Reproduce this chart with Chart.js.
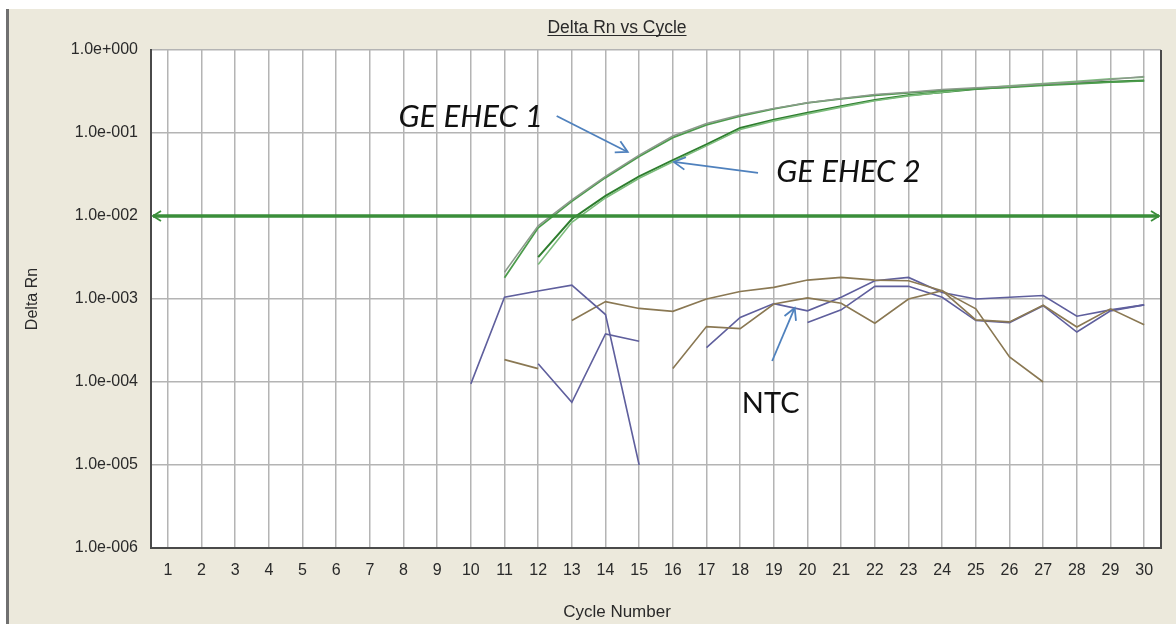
<!DOCTYPE html>
<html>
<head>
<meta charset="utf-8">
<script src="https://cdn.jsdelivr.net/npm/chart.js@4.4.1/dist/chart.umd.min.js"></script>
<style>
html,body{margin:0;padding:0;background:#fff;}
#wrap{width:1176px;height:624px;position:relative;}
</style>
</head>
<body>
<div id="wrap"><canvas id="c" width="1176" height="624"></canvas></div>
<script>
// ---------- DATA ----------
const cycles = [1,2,3,4,5,6,7,8,9,10,11,12,13,14,15,16,17,18,19,20,21,22,23,24,25,26,27,28,29,30];
const yTickValues = [1e-6, 1e-5, 1e-4, 1e-3, 1e-2, 1e-1, 1];
const yTickLabels = ['1.0e-006','1.0e-005','1.0e-004','1.0e-003','1.0e-002','1.0e-001','1.0e+000'];
const threshold = 1e-2;
const _ = null;

// GE EHEC 1 replicates (start cycle 11)
const ehec1a = [_,_,_,_,_,_,_,_,_,_, 2.1e-3,7.6e-3,1.56e-2,3.0e-2,5.4e-2,9.2e-2,0.13,0.165,0.198,0.232,0.26,0.29,0.31,0.335,0.35,0.365,0.39,0.41,0.44,0.48];
const ehec1b = [_,_,_,_,_,_,_,_,_,_, 1.8e-3,7.2e-3,1.5e-2,2.9e-2,5.2e-2,8.8e-2,0.125,0.16,0.195,0.23,0.258,0.285,0.305,0.325,0.34,0.355,0.375,0.39,0.41,0.425];
// GE EHEC 2 replicates (start cycle 12)
const ehec2a = [_,_,_,_,_,_,_,_,_,_,_, 3.2e-3,9.2e-3,1.75e-2,3.0e-2,4.7e-2,7.3e-2,0.115,0.145,0.175,0.21,0.25,0.285,0.31,0.34,0.36,0.385,0.40,0.415,0.43];
const ehec2b = [_,_,_,_,_,_,_,_,_,_,_, 2.6e-3,8.4e-3,1.65e-2,2.85e-2,4.5e-2,7.0e-2,0.11,0.14,0.17,0.205,0.245,0.28,0.31,0.345,0.37,0.395,0.42,0.45,0.47];

// NTC traces
const ntcA = [_,_,_,_,_,_,_,_,_, 9.5e-5,1.05e-3,1.25e-3,1.47e-3,6.5e-4,1.0e-5,_,_,_,_,_,_,_,_,_,_,_,_,_,_,_];
const ntcB = [_,_,_,_,_,_,_,_,_,_,_, 1.66e-4,5.7e-5,3.8e-4,3.1e-4,_,_,_,_,_,_,_,_,_,_,_,_,_,_,_];
const ntcC = [_,_,_,_,_,_,_,_,_,_, 1.86e-4,1.45e-4,_,_,_,_,_,_,_,_,_,_,_,_,_,_,_,_,_,_];
const ntcD = [_,_,_,_,_,_,_,_,_,_,_,_, 5.5e-4,9.3e-4,7.7e-4,7.1e-4,1.0e-3,1.23e-3,1.38e-3,1.69e-3,1.82e-3,1.69e-3,1.66e-3,1.26e-3,7.6e-4,2.0e-4,1.0e-4,_,_,_];
const ntcE = [_,_,_,_,_,_,_,_,_,_,_,_,_,_,_, 1.45e-4,4.65e-4,4.4e-4,8.7e-4,1.03e-3,8.9e-4,5.1e-4,1.0e-3,1.26e-3,5.6e-4,5.3e-4,8.4e-4,4.6e-4,7.6e-4,4.9e-4];
const ntcF = [_,_,_,_,_,_,_,_,_,_,_,_,_,_,_,_, 2.6e-4,6.0e-4,8.8e-4,7.2e-4,1.05e-3,1.66e-3,1.82e-3,1.2e-3,1.0e-3,1.05e-3,1.1e-3,6.2e-4,7.4e-4,8.5e-4];
const ntcG = [_,_,_,_,_,_,_,_,_,_,_,_,_,_,_,_,_,_,_, 5.2e-4,7.4e-4,1.42e-3,1.42e-3,1.05e-3,5.5e-4,5.2e-4,8.3e-4,4.0e-4,7.2e-4,8.5e-4];

// ---------- ANNOTATIONS (data coordinates: cycle, Delta Rn) ----------
const annotations = {
  texts: [
    {text:'GE EHEC 1', cycle:7.85, value:0.118, italic:true},
    {text:'GE EHEC 2', cycle:19.07, value:0.0257, italic:true},
    {text:'NTC', cycle:18.05, value:4.2e-5, italic:false}
  ],
  arrows: [
    {from:[12.55,0.16], to:[14.66,0.059]},
    {from:[18.53,0.033], to:[16.03,0.0448]},
    {from:[18.95,1.79e-4], to:[19.62,7.8e-4]}
  ]
};

// ---------- STYLE ----------
const BLUE = '#5f5f9d', BROWN = '#8a7853';
const FONT = '"Liberation Sans", Arial, sans-serif';

function ds(label, data, color, width){
  return {label, data, borderColor: color, borderWidth: width || 1.6, pointRadius: 0,
          fill: false, tension: 0, spanGaps: false};
}

const bgPlugin = {
  id: 'bg',
  beforeDraw(chart){
    const {ctx, chartArea:a} = chart;
    ctx.save();
    ctx.fillStyle = '#ffffff';
    ctx.fillRect(0,0,chart.width,chart.height);
    ctx.fillStyle = '#ece9dc';
    ctx.fillRect(9,9,chart.width-9,chart.height-9);
    ctx.fillStyle = '#707070';
    ctx.fillRect(6,9,3,chart.height-9);
    ctx.fillStyle = '#ffffff';
    ctx.fillRect(a.left,a.top,a.right-a.left,a.bottom-a.top);
    ctx.restore();
  },
  afterDraw(chart){
    const {ctx, chartArea:a} = chart;
    ctx.save();
    // right border
    ctx.strokeStyle = '#4a4a4a'; ctx.lineWidth = 2;
    ctx.beginPath(); ctx.moveTo(a.right, a.top); ctx.lineTo(a.right, a.bottom+1); ctx.stroke();
    // title
    const cx = 617;
    ctx.fillStyle = '#2a2a2a';
    ctx.font = '17.5px ' + FONT;
    ctx.textAlign = 'center'; ctx.textBaseline = 'alphabetic';
    const t = 'Delta Rn vs Cycle';
    ctx.fillText(t, cx, 33);
    const w = ctx.measureText(t).width;
    ctx.strokeStyle = '#2a2a2a'; ctx.lineWidth = 1;
    ctx.beginPath(); ctx.moveTo(cx - w/2, 35.5); ctx.lineTo(cx + w/2, 35.5); ctx.stroke();
    // x axis title
    ctx.font = '17px ' + FONT;
    ctx.textBaseline = 'middle';
    ctx.fillText('Cycle Number', cx, 612);
    ctx.restore();
  }
};

function drawArrow(ctx, x1, y1, x2, y2){
  const ang = Math.atan2(y2-y1, x2-x1), L = 13, sp = 0.5;
  ctx.beginPath(); ctx.moveTo(x1,y1); ctx.lineTo(x2,y2); ctx.stroke();
  ctx.beginPath();
  ctx.moveTo(x2 - L*Math.cos(ang - sp), y2 - L*Math.sin(ang - sp));
  ctx.lineTo(x2, y2);
  ctx.lineTo(x2 - L*Math.cos(ang + sp), y2 - L*Math.sin(ang + sp));
  ctx.stroke();
}

const overlayPlugin = {
  id: 'overlay',
  afterDatasetsDraw(chart){
    const {ctx, chartArea:a, scales:{x, y}} = chart;
    ctx.save();
    // threshold line with arrowheads
    const py = y.getPixelForValue(threshold);
    ctx.strokeStyle = '#3a8e3a'; ctx.lineWidth = 3.5; ctx.lineCap = 'butt';
    ctx.beginPath(); ctx.moveTo(a.left+2, py); ctx.lineTo(a.right-2, py); ctx.stroke();
    ctx.lineWidth = 1.8;
    ctx.beginPath(); ctx.moveTo(a.left+10, py-5); ctx.lineTo(a.left+2, py); ctx.lineTo(a.left+10, py+5); ctx.stroke();
    ctx.beginPath(); ctx.moveTo(a.right-10, py-5); ctx.lineTo(a.right-2, py); ctx.lineTo(a.right-10, py+5); ctx.stroke();
    // arrows
    ctx.strokeStyle = '#4f81bd'; ctx.lineWidth = 1.8; ctx.lineJoin = 'miter';
    annotations.arrows.forEach(ar => {
      drawArrow(ctx,
        x.getPixelForValue(ar.from[0]-1), y.getPixelForValue(ar.from[1]),
        x.getPixelForValue(ar.to[0]-1), y.getPixelForValue(ar.to[1]));
    });
    // texts
    ctx.fillStyle = '#111';
    ctx.textAlign = 'left'; ctx.textBaseline = 'alphabetic';
    annotations.texts.forEach(t => {
      ctx.font = t.italic ? 'italic 31px Lato, "Open Sans", sans-serif' : '29px Lato, "Open Sans", sans-serif';
      ctx.fillText(t.text, x.getPixelForValue(t.cycle-1), y.getPixelForValue(t.value));
    });
    ctx.restore();
  }
};

new Chart(document.getElementById('c'), {
  type: 'line',
  data: {
    labels: cycles.map(String),
    datasets: [
      ds('NTC A', ntcA, BLUE), ds('NTC B', ntcB, BLUE), ds('NTC C', ntcC, BROWN),
      ds('NTC D', ntcD, BROWN), ds('NTC E', ntcE, BROWN),
      ds('NTC F', ntcF, BLUE), ds('NTC G', ntcG, BLUE),
      ds('GE EHEC 1a', ehec1a, '#8c9a8c', 1.5), ds('GE EHEC 1b', ehec1b, '#4c9c4c', 1.8),
      ds('GE EHEC 2b', ehec2b, '#7cbc7c', 1.6), ds('GE EHEC 2a', ehec2a, '#2e7d2e', 2.0)
    ]
  },
  options: {
    responsive: false,
    animation: false,
    devicePixelRatio: 1,
    layout: {padding: {top: 50, right: 15, left: 0, bottom: 0}},
    plugins: {legend: {display: false}, tooltip: {enabled: false}, title: {display: false}},
    scales: {
      x: {
        type: 'category',
        offset: true,
        grid: {offset: false, color: '#b4b4b4', lineWidth: 1.5, drawTicks: false},
        border: {display: true, color: '#4a4a4a', width: 2},
        ticks: {color: '#2a2a2a', font: {family: FONT, size: 16}, padding: 13, maxRotation: 0, autoSkip: false},
        afterFit(s){ s.height = 76; }
      },
      y: {
        type: 'logarithmic',
        min: 1e-6, max: 1,
        grid: {color: '#b4b4b4', lineWidth: 1.5, drawTicks: false},
        border: {display: true, color: '#4a4a4a', width: 2},
        afterBuildTicks(s){ s.ticks = yTickValues.map(v => ({value: v})); },
        ticks: {
          color: '#2a2a2a', font: {family: FONT, size: 16}, padding: 13,
          callback: (v) => yTickLabels[yTickValues.indexOf(v)]
        },
        title: {display: true, text: 'Delta Rn', color: '#2a2a2a', font: {family: FONT, size: 16}, padding: {top: 23, bottom: 0}},
        afterFit(s){ s.width = 151; }
      }
    }
  },
  plugins: [bgPlugin, overlayPlugin]
});
</script>
</body>
</html>
